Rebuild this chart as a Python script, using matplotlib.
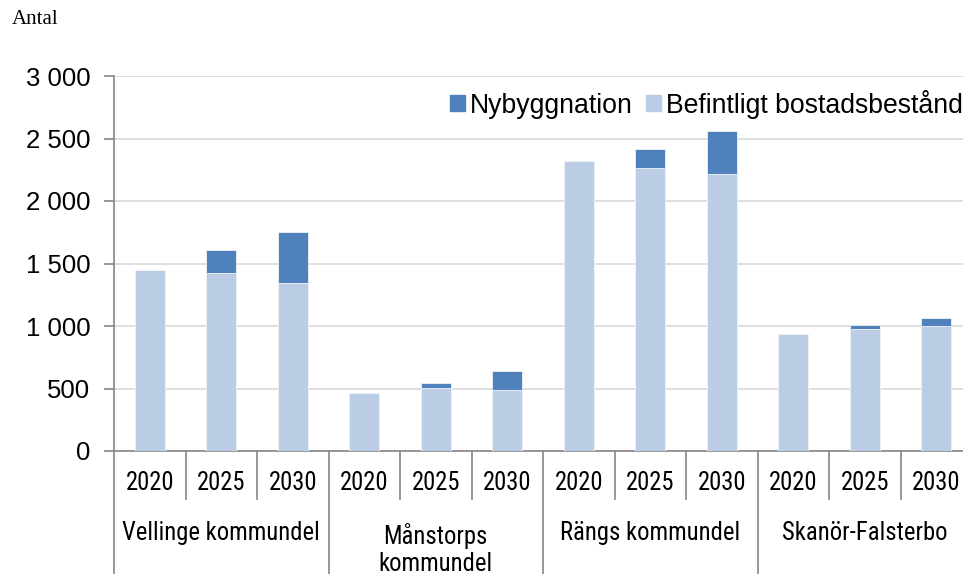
import matplotlib
matplotlib.use('Agg')
import matplotlib.pyplot as plt
import matplotlib.transforms as mtransforms
from matplotlib import font_manager
from matplotlib.patches import Patch

# data
groups = ['Vellinge kommundel', 'Månstorps\nkommundel', 'Rängs kommundel', 'Skanör-Falsterbo']
years = ['2020', '2025', '2030']
befintligt = [1450, 1425, 1345,
              465, 505, 488,
              2320, 2262, 2218,
              938, 976, 1000]
nybygg = [0, 180, 410,
          0, 42, 155,
          0, 152, 344,
          0, 32, 62]

c_new = '#4F81BD'
c_old = '#BBCDE5'
plt.rcParams['font.family'] = ['Liberation Sans', 'DejaVu Sans']

# the category labels use a narrow face (Arial Narrow in the original)
files = [f.fname for f in font_manager.fontManager.ttflist]
def find_font(keys):
    for fn in files:
        low = fn.lower().replace('-', '').replace('_', '')
        if all(k in low for k in keys) and not any(b in low for b in ['bold', 'italic', 'oblique', 'light', 'medium', 'thin', 'black']):
            return fn
    return None

narrow = find_font(['liberationsansnarrow'])
if narrow:
    cat_font = dict(fontproperties=font_manager.FontProperties(fname=narrow, size=19))
else:
    narrow = find_font(['robotocondensed'])
    if narrow:
        cat_font = dict(fontproperties=font_manager.FontProperties(fname=narrow, size=17.7))
    else:
        narrow = find_font(['dejavusanscondensed'])
        if narrow:
            cat_font = dict(fontproperties=font_manager.FontProperties(fname=narrow, size=15.5))
        else:
            cat_font = dict(fontsize=15.5)

fig = plt.figure(figsize=(9.63, 5.74), dpi=100)
ax = fig.add_axes([114 / 963, 123 / 574, 858 / 963, 375 / 574])

x = list(range(len(befintligt)))
ax.bar(x, befintligt, width=0.42, color=c_old, edgecolor='#EEF3F9', linewidth=0.6, zorder=3)
ax.bar(x, nybygg, bottom=befintligt, width=0.42, color=c_new, edgecolor='#EEF3F9', linewidth=0.6, zorder=3)

ax.set_ylim(0, 3000)
ax.set_xlim(-0.5, len(x) - 0.5)
ax.set_yticks(range(0, 3001, 500))
ax.set_yticklabels(['{:,}'.format(v).replace(',', ' ') for v in range(0, 3001, 500)], fontsize=18.5)
ax.yaxis.grid(True, color='#D9D9D9', linewidth=1.2, zorder=0)
ax.set_xticks([])
ax.tick_params(axis='y', length=7, width=1.2, color='#868686', pad=10)

for s in ['top', 'right']:
    ax.spines[s].set_visible(False)
for s in ['left', 'bottom']:
    ax.spines[s].set_color('#868686')
    ax.spines[s].set_linewidth(1.2)

# category axis: years and group labels with separators
trans = mtransforms.blended_transform_factory(ax.transData, ax.transAxes)
for i in x:
    ax.text(i, -0.085, years[i % 3], transform=trans, ha='center', va='center', **cat_font)
    if i % 3 != 2:
        ax.plot([i + 0.5, i + 0.5], [0, -0.128], transform=trans, color='#868686',
                lw=1.2, clip_on=False)
for g in range(len(groups) + 1):
    ax.plot([g * 3 - 0.5, g * 3 - 0.5], [0, -0.34], transform=trans, color='#868686',
            lw=1.2, clip_on=False)
for g, name in enumerate(groups):
    yy = -0.262 if '\n' in name else -0.219
    ax.text(g * 3 + 1, yy, name, transform=trans, ha='center', va='center',
            linespacing=1.15, **cat_font)

handles = [Patch(color=c_new, label='Nybyggnation'),
           Patch(color=c_old, label='Befintligt bostadsbestånd')]
fig.legend(handles=handles, loc='upper right', bbox_to_anchor=(1.011, 0.862), ncol=2,
           frameon=False, fontsize=19.2, handlelength=0.55, handleheight=0.55,
           handletextpad=0.2, columnspacing=0.5, borderaxespad=0)

fig.text(12 / 963, 1 - 20 / 574, 'Antal', family=['Liberation Serif', 'DejaVu Serif'],
         fontsize=15, ha='left', va='center')

fig.savefig('out.png', dpi=100)
